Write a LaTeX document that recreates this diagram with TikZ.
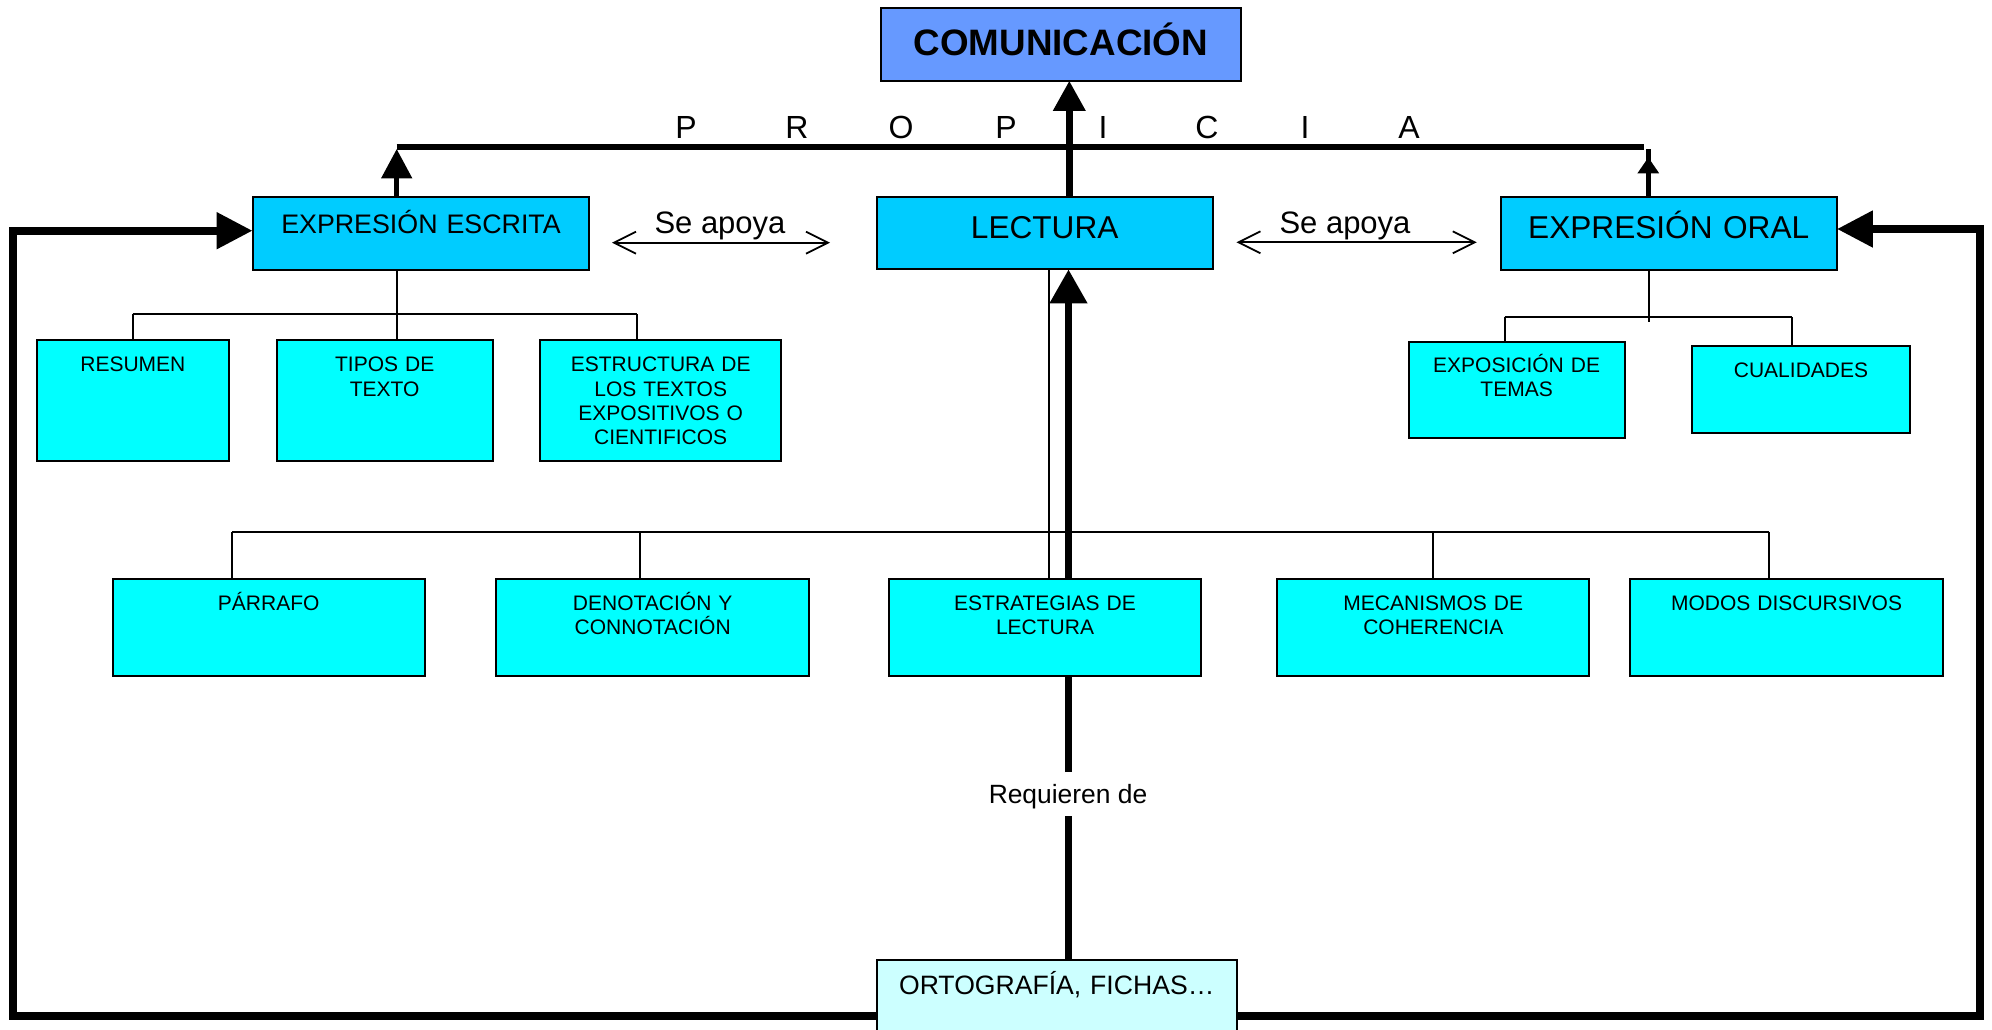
\documentclass[tikz,border=0pt]{standalone}
\usepackage{fontspec}
\setmainfont{Liberation Sans}
\usetikzlibrary{arrows.meta}
\definecolor{comblue}{HTML}{6699FF}
\definecolor{midblue}{HTML}{00CCFF}
\definecolor{boxcyan}{HTML}{00FFFF}
\definecolor{lightcyan}{HTML}{CCFFFF}
\pgfdeclarelayer{bg}
\pgfsetlayers{bg,main}
\begin{document}
\begin{tikzpicture}[x=0.5pt,y=-0.5pt,
  box/.style={draw=black, line width=1pt, inner sep=0pt, outer sep=0pt, align=center, anchor=north west},
  bigbox/.style={box, fill=midblue, font=\fontsize{15.8}{18}\selectfont},
  smbox/.style={box, fill=boxcyan, font=\fontsize{10.5}{12.2}\selectfont},
  thinln/.style={line width=1pt},
  fb/.style={line width=4pt, line join=miter, arrows={-Triangle[length=18pt,width=17.5pt]}},
  sa/.style={line width=0.9pt, arrows={Straight Barb[length=11pt,width=11pt]-Straight Barb[length=11pt,width=11pt]}},
  lbl/.style={anchor=base, inner sep=0pt},
  sefont/.style={lbl, font=\fontsize{15.5}{18}\selectfont},
  letter/.style={lbl, font=\fontsize{16}{18}\selectfont}
]
\useasboundingbox (0,0) rectangle (1992,1029);
\clip (0,0) rectangle (1992,1029);

% main boxes
\node[box, fill=comblue, font=\fontsize{18.4}{22}\selectfont\bfseries, text width=180.2pt, text height=23.5pt, text depth=12.9pt] (com) at (880.7,8) {COMUNICACIÓN};
\node[bigbox, text width=168pt, text height=20.5pt, text depth=15.5pt] (lec) at (876.7,197.3) {LECTURA};
\node[bigbox, font=\fontsize{13.4}{16}\selectfont, text width=168.4pt, text height=18pt, text depth=18.4pt] (ee) at (252.6,197.3) {EXPRESIÓN ESCRITA};
\node[bigbox, text width=168.2pt, text height=20.5pt, text depth=15.9pt] (eo) at (1500.5,197.3) {EXPRESIÓN ORAL};

% second row
\node[smbox, text width=96.2pt, text height=15.85pt, text depth=44.55pt] (res) at (36.7,340) {RESUMEN};
\node[smbox, text width=108.2pt, text height=15.85pt, text depth=44.55pt] (tip) at (276.5,340) {TIPOS DE\\TEXTO};
\node[smbox, text width=120.4pt, text height=15.85pt, text depth=44.55pt] (est) at (540.3,340) {ESTRUCTURA DE\\LOS TEXTOS\\EXPOSITIVOS O\\CIENTIFICOS};
\node[smbox, text width=108pt, text height=15.3pt, text depth=32.7pt] (expo) at (1408.6,341.7) {EXPOSICIÓN DE\\TEMAS};
\node[smbox, text width=108.6pt, text height=15.8pt, text depth=28pt] (cual) at (1692.4,345.7) {CUALIDADES};

% third row
\node[smbox, text width=156.2pt, text height=15.35pt, text depth=32.85pt] (par) at (112.5,579.3) {PÁRRAFO};
\node[smbox, text width=156.3pt, text height=15.35pt, text depth=32.85pt] (den) at (496.4,579.3) {DENOTACIÓN Y\\CONNOTACIÓN};
\node[smbox, text width=156pt, text height=15.35pt, text depth=32.85pt] (estr) at (889,579.3) {ESTRATEGIAS DE\\LECTURA};
\node[smbox, text width=155.9pt, text height=15.35pt, text depth=32.85pt] (mec) at (1277.4,579.3) {MECANISMOS DE\\COHERENCIA};
\node[smbox, text width=156.5pt, text height=15.35pt, text depth=32.85pt] (mod) at (1630,579.3) {MODOS DISCURSIVOS};

% bottom box
\node[box, fill=lightcyan, font=\fontsize{13.3}{16}\selectfont, text width=180pt, text height=17pt, text depth=33pt] (ort) at (876.7,960) {ORTOGRAFÍA, FICHAS…};

% labels
\node[font=\fontsize{13.2}{15}\selectfont, anchor=base, text height=12pt] (req) at (1068,803.3) {Requieren de};
\node[sefont] (se1) at (720,233) {Se apoya};
\node[sefont] (se2) at (1345,233) {Se apoya};
\foreach \l/\x [count=\i] in {P/686,R/797,O/901,P/1006,I/1103,C/1207,I/1305,A/1409}
  \node[letter] (pr\i) at (\x,138.3) {\l};

\begin{pgfonlayer}{bg}
% PROPICIA bar and arrows up
\coordinate (pl) at (396.7,146.7);
\coordinate (pr) at (1644.3,146.7);
\draw[line width=2.85pt] (pl) -- (pr);
\coordinate (xc) at (1069.3,0);
\draw[line width=3.3pt, arrows={-Triangle[length=15pt,width=15.5pt]}] (lec.north -| xc) -- (com.south -| xc);
\coordinate (xee) at (396.7,149);
\draw[line width=2.5pt, arrows={-Triangle[length=14.7pt,width=15pt]}] (ee.north -| xee) -- (xee);
\coordinate (xeo) at (1648.3,149);
\coordinate (xeot) at (1648.3,157.3);
\draw[line width=2.7pt] (eo.north -| xeo) -- (xeo);
\draw[line width=2.7pt, arrows={-Triangle[length=8pt,width=10.3pt]}] (eo.north -| xeo) -- (xeot);

% Se apoya
\coordinate (s1a) at (612,242.7);
\coordinate (s1b) at (830,242.7);
\draw[sa] (s1a) -- (s1b);
\coordinate (s2a) at (1236.4,242.3);
\coordinate (s2b) at (1476.8,242.3);
\draw[sa] (s2a) -- (s2b);

% EE tree
\coordinate (ea) at (132.7,314);
\coordinate (eb) at (636.7,314);
\coordinate (ec) at (396.5,314);
\draw[thinln] (ee.south -| ec) -- (tip.north -| ec);
\draw[thinln] (ea) -- (eb);
\draw[thinln] (ea) -- (res.north -| ea);
\draw[thinln] (eb) -- (est.north -| eb);

% EO tree
\coordinate (oa) at (1504.5,317.3);
\coordinate (ob) at (1792.4,317.3);
\coordinate (oc) at (1648.5,321.7);
\draw[thinln] (eo.south -| oc) -- (oc);
\draw[thinln] (oa) -- (ob);
\draw[thinln] (oa) -- (expo.north -| oa);
\draw[thinln] (ob) -- (cual.north -| ob);

% lower bus
\coordinate (la) at (232,531.7);
\coordinate (lb) at (1768.7,531.7);
\coordinate (ld) at (640.4,531.7);
\coordinate (lm) at (1432.6,531.7);
\draw[thinln] (la) -- (lb);
\draw[thinln] (la) -- (par.north -| la);
\draw[thinln] (ld) -- (den.north -| ld);
\draw[thinln] (lm) -- (mec.north -| lm);
\draw[thinln] (lb) -- (mod.north -| lb);
\coordinate (xs) at (1049,0);
\draw[thinln] (lec.south -| xs) -- (estr.north -| xs);

% central thick arrow
\coordinate (xt) at (1068.5,0);
\draw[line width=3.85pt] (ort.north -| xt) -- (req.south -| xt);
\draw[line width=3.85pt, arrows={-Triangle[length=17pt,width=17.9pt]}] (req.north -| xt) -- (lec.south -| xt);

% feedback loops
\coordinate (bl) at (13,1016.3);
\coordinate (tl) at (13,230.7);
\draw[fb] (ort.west |- bl) -- (bl) -- (tl) -- (ee.west |- tl);
\coordinate (br) at (1980.3,1016.3);
\coordinate (tr) at (1980.3,229);
\draw[fb] (ort.east |- br) -- (br) -- (tr) -- (eo.east |- tr);
\end{pgfonlayer}
\end{tikzpicture}
\end{document}
